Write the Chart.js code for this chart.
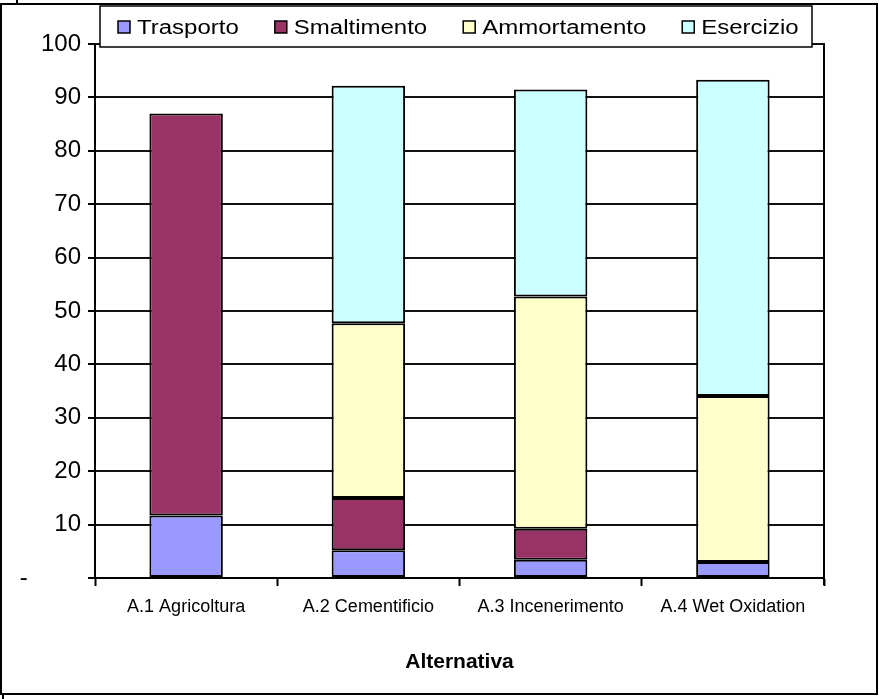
<!DOCTYPE html>
<html>
<head>
<meta charset="utf-8">
<script src="https://cdn.jsdelivr.net/npm/chart.js@4"></script>
<style>
  html, body { margin: 0; padding: 0; background: #fff; }
  #wrap { width: 879px; height: 699px; position: relative; }
</style>
</head>
<body>
<div id="wrap"><canvas id="c" width="879" height="699"></canvas></div>
<script>
// Costo per alternativa di gestione, suddiviso per voce
const categories   = ['A.1 Agricoltura', 'A.2 Cementificio', 'A.3 Incenerimento', 'A.4 Wet Oxidation'];
const seriesNames  = ['Trasporto', 'Smaltimento', 'Ammortamento', 'Esercizio'];
const trasporto    = [11.7, 5.2, 3.4, 3.0];
const smaltimento  = [75.3, 9.8, 5.8, 0];
const ammortamento = [null, 32.7, 43.5, 31.1];
const esercizio    = [null, 44.5, 38.8, 59.2];
const yMin = 0, yMax = 100, yStep = 10;
const zeroTickLabel = '-';
const xTitle = 'Alternativa';

const colors = ['#9999FF', '#993366', '#FFFFCC', '#CCFFFF'];
const FONT = "'Liberation Sans', Arial, sans-serif";

const seriesValues = [trasporto, smaltimento, ammortamento, esercizio];
const datasets = seriesNames.map((name, i) => ({
  label: name,
  data: seriesValues[i],
  backgroundColor: colors[i],
  borderColor: '#000',
  borderWidth: 2,
  borderSkipped: false,
  barPercentage: 1,
  categoryPercentage: 0.403,
  stack: 'costi'
}));

// Plot frame on the right side
const frameRight = {
  id: 'frameRight',
  beforeDatasetsDraw(chart) {
    const { ctx, chartArea: a } = chart;
    ctx.save();
    ctx.strokeStyle = '#000';
    ctx.lineWidth = 2;
    ctx.beginPath();
    ctx.moveTo(a.right, a.top - 1);
    ctx.lineTo(a.right, a.bottom + 7);
    ctx.stroke();
    ctx.restore();
  }
};

// Boxed legend drawn over the top of the plot, plus the outer border
const boxedLegend = {
  id: 'boxedLegend',
  afterDraw(chart) {
    const ctx = chart.ctx;
    ctx.save();
    // outer border
    ctx.strokeStyle = '#000';
    ctx.lineWidth = 2;
    ctx.strokeRect(1, 4, 876, 690);
    ctx.beginPath();
    ctx.moveTo(17, 0); ctx.lineTo(17, 4);
    ctx.moveTo(3, 694); ctx.lineTo(3, 699);
    ctx.stroke();

    // legend frame
    const bx = 100, by = 6, bw = 712, bh = 41;
    ctx.fillStyle = '#fff';
    ctx.fillRect(bx, by, bw, bh);
    ctx.lineWidth = 1.5;
    ctx.strokeStyle = '#000';
    ctx.strokeRect(bx, by, bw, bh);

    const sx = 1.2;
    ctx.font = '20px ' + FONT;
    ctx.textBaseline = 'middle';
    ctx.textAlign = 'left';
    let x = 118;
    const cy = 27;
    chart.data.datasets.forEach(ds => {
      ctx.fillStyle = ds.backgroundColor;
      ctx.fillRect(x, cy - 6, 12, 12);
      ctx.lineWidth = 1.5;
      ctx.strokeStyle = '#000';
      ctx.strokeRect(x, cy - 6, 12, 12);
      const tx = x + 19;
      const w = ctx.measureText(ds.label).width * sx;
      ctx.save();
      ctx.translate(tx, cy + 1);
      ctx.scale(sx, 1);
      ctx.fillStyle = '#000';
      ctx.fillText(ds.label, 0, 0);
      ctx.restore();
      x = tx + w + 36;
    });
    ctx.restore();
  }
};

new Chart(document.getElementById('c'), {
  type: 'bar',
  data: { labels: categories, datasets },
  options: {
    responsive: false,
    animation: false,
    devicePixelRatio: 1,
    layout: { padding: { left: 0, right: 55, top: 44, bottom: 0 } },
    plugins: {
      legend: { display: false },
      tooltip: { enabled: false }
    },
    scales: {
      x: {
        stacked: true,
        offset: true,
        grid: {
          offset: true,
          drawOnChartArea: false,
          drawTicks: true,
          tickLength: 8,
          tickColor: '#000',
          tickWidth: 2
        },
        border: { color: '#000', width: 2 },
        ticks: {
          color: '#000',
          font: { family: FONT, size: 18 },
          padding: 10,
          maxRotation: 0,
          autoSkip: false
        },
        title: {
          display: true,
          text: xTitle,
          color: '#000',
          font: { family: FONT, size: 21, weight: 'bold' },
          padding: { top: 0, bottom: 24 }
        },
        afterFit(scale) { scale.height = 121; }
      },
      y: {
        stacked: true,
        min: yMin,
        max: yMax,
        grid: {
          color: '#111',
          lineWidth: 2,
          drawTicks: true,
          tickLength: 7,
          tickColor: '#000',
          tickWidth: 2
        },
        border: { color: '#000', width: 2 },
        ticks: {
          stepSize: yStep,
          color: '#000',
          padding: 7,
          font: { family: FONT, size: 24 },
          callback: v => (v === 0 ? zeroTickLabel + '        ' : String(v))
        },
        afterFit(scale) { scale.width = 95; }
      }
    }
  },
  plugins: [frameRight, boxedLegend]
});
</script>
</body>
</html>
